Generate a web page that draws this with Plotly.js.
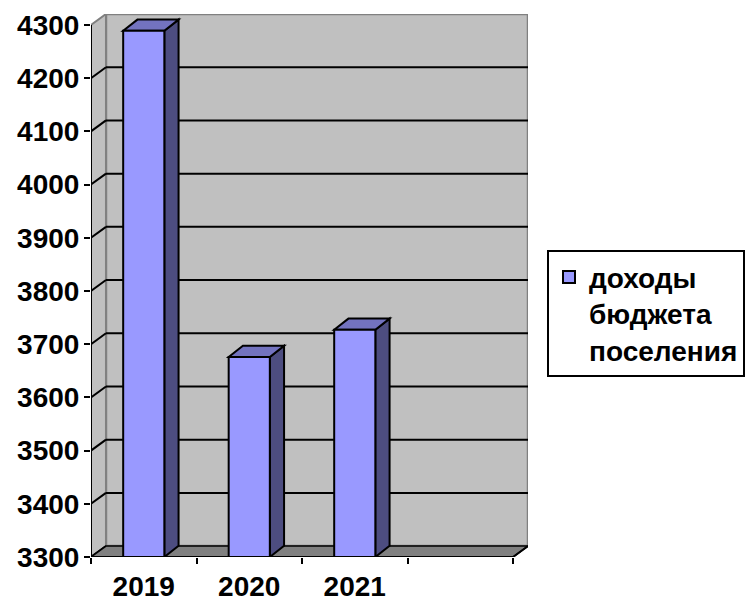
<!DOCTYPE html>
<html>
<head>
<meta charset="utf-8">
<script src="https://cdn.plot.ly/plotly-3.0.1.min.js"></script>
<style>html,body{margin:0;padding:0;background:#fff;}#chart{width:751px;height:601px;}</style>
</head>
<body>
<div id="chart"></div>
<script>
// ---- data ----
const categories = ['2019', '2020', '2021'];
const values = [4289, 3676, 3727];
const seriesName = 'доходы<br>бюджета<br>поселения';
const yTicks = [3300, 3400, 3500, 3600, 3700, 3800, 3900, 4000, 4100, 4200, 4300];
const yMin = 3300, yMax = 4300;
const nSlots = 4; // category slots on the floor (one empty)

// ---- style / 3D geometry (data units) ----
const WDX = 0.142, WDY = 20.5;   // wall depth offset
const BDX = 0.135, BDY = 21;     // bar depth offset
const BW = 0.39;                 // bar width
const FRONT = '#9999ff', SIDE = '#4d4d80', TOP = '#7373bf';
const WALL = '#c0c0c0', FLOOR = '#808080', EDGE = '#808080';

const xs = categories.map((c, i) => i);
const xL = -0.5, xR = nSlots - 0.5;

const shapes = [];
function poly(pts, fill, lc, lw, layer) {
  const d = pts.map((p, k) => (k ? 'L' : 'M') + p[0] + ',' + p[1]).join(' ') + ' Z';
  shapes.push({type: 'path', xref: 'x', yref: 'y', path: d, fillcolor: fill,
    line: {color: lc, width: lw}, layer: layer || 'below'});
}
function seg(x0, y0, x1, y1, lc, lw, layer) {
  shapes.push({type: 'line', xref: 'x', yref: 'y', x0, y0, x1, y1,
    line: {color: lc, width: lw}, layer: layer || 'below'});
}
// back wall
poly([[xL + WDX, yMin + WDY], [xR + WDX, yMin + WDY], [xR + WDX, yMax + WDY], [xL + WDX, yMax + WDY]], WALL, EDGE, 2.5);
// left wall
poly([[xL, yMin], [xL + WDX, yMin + WDY], [xL + WDX, yMax + WDY], [xL, yMax]], WALL, EDGE, 2);
// gridlines on back wall + diagonals on left wall
yTicks.forEach(v => {
  if (v > yMin && v < yMax) seg(xL + WDX, v + WDY, xR + WDX, v + WDY, '#000', 2);
  if (v < yMax) seg(xL, v, xL + WDX, v + WDY, '#000', 2);
});
// floor
poly([[xL, yMin], [xR, yMin], [xR + WDX, yMin + WDY], [xL + WDX, yMin + WDY]], FLOOR, '#000', 1.5);
// bar side and top faces
xs.forEach((x, i) => {
  const v = values[i];
  const r = x + BW / 2, l = x - BW / 2;
  poly([[r, yMin], [r + BDX, yMin + BDY], [r + BDX, v + BDY], [r, v]], SIDE, '#000', 2);
  poly([[l, v], [l + BDX, v + BDY], [r + BDX, v + BDY], [r, v]], TOP, '#000', 2);
});
// axis lines
seg(xL, yMin, xL, yMax, '#000', 2, 'above');
seg(xL, yMin, xR, yMin, '#000', 2, 'above');
seg(xR, yMin, xR + WDX, yMin + WDY, '#000', 2, 'above');

const boundaries = [];
for (let k = 0; k <= nSlots; k++) boundaries.push(k - 0.5);

const font = {family: '"Liberation Sans", Arial, sans-serif', size: 28, color: '#000', weight: 'bold'};

const trace = {
  type: 'bar', x: xs, y: values, name: seriesName, width: BW,
  marker: {color: FRONT, line: {color: '#000', width: 2}},
  showlegend: true, hoverinfo: 'y'
};

const layout = {
  width: 751, height: 601,
  margin: {l: 91, r: 223, t: 14, b: 44, autoexpand: false},
  paper_bgcolor: '#fff', plot_bgcolor: '#fff',
  font: font,
  bargap: 0,
  showlegend: true,
  legend: {x: 1.0435, y: 0.565, xanchor: 'left', yanchor: 'top',
    bordercolor: '#000', borderwidth: 2, bgcolor: '#fff', font: font, valign: 'top',
    tracegroupgap: 0, itemwidth: 30},
  xaxis: {
    range: [xL, xR + WDX], showgrid: false, zeroline: false, showline: false,
    tickmode: 'array', tickvals: xs, ticktext: categories,
    ticks: 'outside', ticklen: 0, tickwidth: 0, ticklabelstandoff: 4,
    tickfont: font, fixedrange: true,
    minor: {tickmode: 'array', tickvals: boundaries, ticks: 'outside', ticklen: 6, tickwidth: 2, tickcolor: '#000', showgrid: false}
  },
  yaxis: {
    range: [yMin, yMax + WDY], showgrid: false, zeroline: false, showline: false,
    tickmode: 'array', tickvals: yTicks, ticktext: yTicks.map(String),
    ticks: 'outside', ticklen: 0, tickwidth: 0, ticklabelstandoff: 5,
    tickfont: font, fixedrange: true,
    minor: {tickmode: 'array', tickvals: yTicks, ticks: 'outside', ticklen: 6, tickwidth: 2, tickcolor: '#000', showgrid: false}
  },
  shapes: shapes
};

Plotly.newPlot('chart', [trace], layout, {displayModeBar: false, staticPlot: true});
</script>
</body>
</html>
